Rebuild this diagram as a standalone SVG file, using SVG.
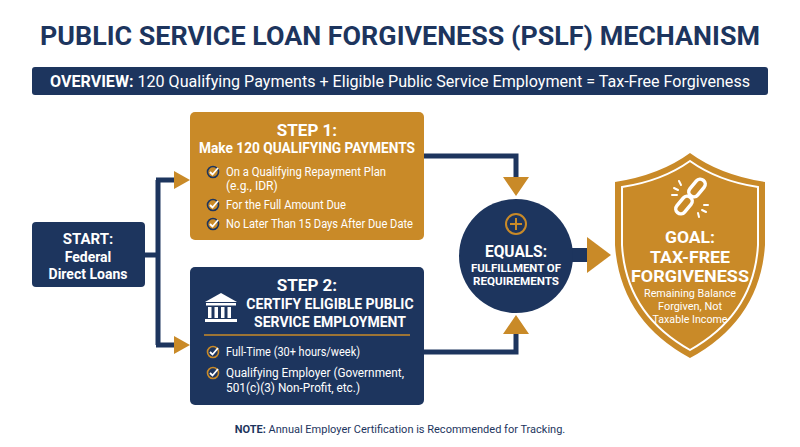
<svg xmlns="http://www.w3.org/2000/svg" width="800" height="447" viewBox="0 0 800 447">
<style>
text{font-family:Roboto,"Liberation Sans",sans-serif;}
.w{fill:#fff}.b{font-weight:bold}
.nv{fill:#1d355e}.gd{fill:#c98a28}
.it{font-size:12px;fill:#fff}
.ln{fill:none;stroke:#1d355e;stroke-width:5}
</style>
<defs>
<g id="chk"><circle r="5.5" fill="none" stroke="#1d355e" stroke-width="1.6"/><path d="M-3,0 L-0.5,2.5 L5,-4" fill="none" stroke="#fff" stroke-width="1.8"/></g>
<g id="chk2"><circle r="5.5" fill="none" stroke="#c98a28" stroke-width="1.6"/><path d="M-3,0 L-0.5,2.5 L5,-4" fill="none" stroke="#fff" stroke-width="1.8"/></g>
</defs>
<rect width="800" height="447" fill="#fff"/>
<text x="400" y="45" text-anchor="middle" class="nv b" font-size="26" textLength="720" lengthAdjust="spacingAndGlyphs">PUBLIC SERVICE LOAN FORGIVENESS (PSLF) MECHANISM</text>
<rect x="32" y="67" width="736" height="28" rx="3" class="nv"/>
<text x="400" y="87" text-anchor="middle" class="w" font-size="16" textLength="700" lengthAdjust="spacingAndGlyphs"><tspan class="b">OVERVIEW:</tspan> 120 Qualifying Payments + Eligible Public Service Employment = Tax-Free Forgiveness</text>
<g id="connectors">
<path class="ln" d="M145,255 H158 M158,180 V345 M156,180 H176 M156,345 H176"/>
<path class="gd" d="M174,171 L190,180 L174,189Z M174,336 L190,345 L174,354Z"/>
<path class="ln" d="M424,156 H516 V180 M424,352 H516 V330"/>
<path class="gd" d="M503,177 L529,177 L516,196Z M503,334 L529,334 L516,315Z"/>
<rect x="570" y="248" width="20" height="14" class="nv"/>
<path class="gd" d="M587,237 L611,255 L587,273Z"/>
</g>
<g id="start"><rect x="32" y="222" width="113" height="65" rx="4" class="nv"/>
<text x="88" y="244" text-anchor="middle" class="w b" font-size="15">START:</text>
<text x="88" y="262" text-anchor="middle" class="w b" font-size="14">Federal</text>
<text x="88" y="279" text-anchor="middle" class="w b" font-size="14">Direct Loans</text></g>
<g id="step1"><rect x="190" y="112" width="234" height="128" rx="5" class="gd"/>
<text x="307" y="136" text-anchor="middle" class="w b" font-size="17">STEP 1:</text>
<text x="307" y="153" text-anchor="middle" class="w b" font-size="15" textLength="216" lengthAdjust="spacingAndGlyphs">Make 120 QUALIFYING PAYMENTS</text>
<g transform="translate(213,172)"><use href="#chk"/></g>
<g transform="translate(213,205)"><use href="#chk"/></g>
<g transform="translate(213,224)"><use href="#chk"/></g>
<text x="226" y="176" class="it" textLength="160" lengthAdjust="spacingAndGlyphs">On a Qualifying Repayment Plan</text>
<text x="226" y="190" class="it">(e.g., IDR)</text>
<text x="226" y="209" class="it" textLength="120" lengthAdjust="spacingAndGlyphs">For the Full Amount Due</text>
<text x="226" y="228" class="it" textLength="187" lengthAdjust="spacingAndGlyphs">No Later Than 15 Days After Due Date</text></g>
<g id="step2"><rect x="190" y="267" width="234" height="138" rx="5" class="nv"/>
<text x="307" y="291" text-anchor="middle" class="w b" font-size="17">STEP 2:</text>
<text x="330" y="309" text-anchor="middle" class="w b" font-size="14">CERTIFY ELIGIBLE PUBLIC</text>
<text x="330" y="327" text-anchor="middle" class="w b" font-size="14">SERVICE EMPLOYMENT</text>
<g fill="#fff"><path d="M205,302 L221,293 L237,302Z"/><rect x="206" y="303" width="30" height="2.5"/>
<rect x="208" y="307" width="3.5" height="11"/><rect x="214.5" y="307" width="3.5" height="11"/><rect x="221" y="307" width="3.5" height="11"/><rect x="227.5" y="307" width="3.5" height="11"/>
<rect x="205" y="319" width="32" height="3"/></g>
<line x1="204" y1="335" x2="410" y2="335" stroke="#c98a28" stroke-width="1.3"/>
<g transform="translate(213,352)"><use href="#chk2"/></g>
<g transform="translate(213,373)"><use href="#chk2"/></g>
<text x="226" y="356" class="it" textLength="134" lengthAdjust="spacingAndGlyphs">Full-Time (30+ hours/week)</text>
<text x="226" y="377" class="it" textLength="178" lengthAdjust="spacingAndGlyphs">Qualifying Employer (Government,</text>
<text x="226" y="392" class="it" textLength="134" lengthAdjust="spacingAndGlyphs">501(c)(3) Non-Profit, etc.)</text></g>
<g id="equals"><circle cx="516" cy="256" r="57" class="nv"/>
<circle cx="516" cy="224" r="10" fill="none" stroke="#c98a28" stroke-width="2"/>
<path d="M510,224 H522 M516,218 V230" stroke="#c98a28" stroke-width="2"/>
<text x="516" y="257" text-anchor="middle" class="w b" font-size="17" textLength="62" lengthAdjust="spacingAndGlyphs">EQUALS:</text>
<text x="516" y="272" text-anchor="middle" class="w b" font-size="11.5" textLength="90" lengthAdjust="spacingAndGlyphs">FULFILLMENT OF</text>
<text x="516" y="285" text-anchor="middle" class="w b" font-size="11.5" textLength="86" lengthAdjust="spacingAndGlyphs">REQUIREMENTS</text></g>
<g id="goal">
<path d="M690,153 Q720,175 765,182 V245 Q760,320 690,358 Q620,320 615,245 V182 Q660,175 690,153Z" class="gd"/>
<path d="M690,161 Q718,181 758,187 V245 Q754,314 690,350 Q626,314 622,245 V187 Q662,181 690,161Z" fill="none" stroke="#fff" stroke-width="2"/>
<g fill="none" stroke="#fff" stroke-width="3.5" stroke-linecap="round">
<rect x="-5" y="-10" width="10" height="20" rx="5" transform="translate(697,188) rotate(40)"/>
<rect x="-5" y="-10" width="10" height="20" rx="5" transform="translate(684,205) rotate(40)"/></g>
<g stroke="#fff" stroke-width="2" stroke-linecap="round"><path d="M678,190 l-4,-2 M681,185 l-2,-4 M677,195 l-5,0 M702,210 l4,2 M698,213 l1,4 M704,205 l4,0"/></g>
<text x="690" y="243" text-anchor="middle" class="w b" font-size="17" textLength="50" lengthAdjust="spacingAndGlyphs">GOAL:</text>
<text x="690" y="263" text-anchor="middle" class="w b" font-size="17" textLength="80" lengthAdjust="spacingAndGlyphs">TAX-FREE</text>
<text x="690" y="282" text-anchor="middle" class="w b" font-size="17" textLength="118" lengthAdjust="spacingAndGlyphs">FORGIVENESS</text>
<text x="690" y="297" text-anchor="middle" class="w" font-size="11" textLength="92" lengthAdjust="spacingAndGlyphs">Remaining Balance</text>
<text x="690" y="310" text-anchor="middle" class="w" font-size="11" textLength="64" lengthAdjust="spacingAndGlyphs">Forgiven, Not</text>
<text x="690" y="323" text-anchor="middle" class="w" font-size="11" textLength="75" lengthAdjust="spacingAndGlyphs">Taxable Income</text></g>
<text x="400" y="433" text-anchor="middle" class="nv" font-size="11"><tspan class="b">NOTE:</tspan> Annual Employer Certification is Recommended for Tracking.</text>
</svg>
